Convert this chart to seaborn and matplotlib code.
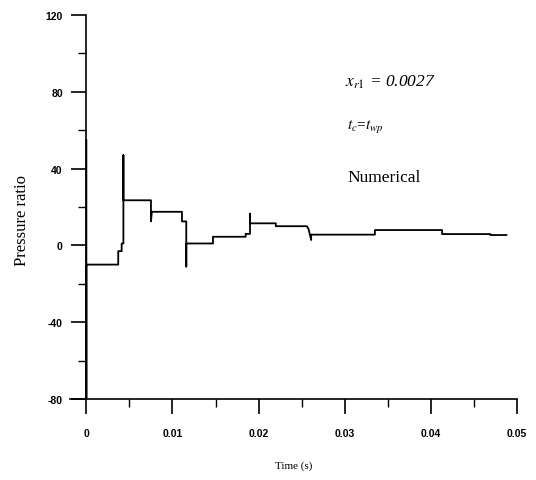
import matplotlib
matplotlib.use("Agg")
import matplotlib.pyplot as plt
import seaborn as sns
import pandas as pd
import numpy as np
from matplotlib.ticker import MultipleLocator

# Step-like pressure history (time in s, pressure ratio)
time_s = [0.0, 0.0, 0.0, 0.0037, 0.0037, 0.0041, 0.0041, 0.0043, 0.0043, 0.0043,
          0.0075, 0.0075, 0.0076, 0.0111, 0.0111, 0.0116, 0.0116, 0.0116,
          0.0147, 0.0147, 0.0185, 0.0185, 0.0190, 0.0190, 0.0190,
          0.0220, 0.0220, 0.0256, 0.0258, 0.0261, 0.0261, 0.0335, 0.0335,
          0.0413, 0.0413, 0.0469, 0.0469, 0.0488]
pressure = [55, -80, -10, -10, -3, -3, 1, 1, 47, 23.5,
            23.5, 12.5, 17.5, 17.5, 12.5, 12.5, -11, 1,
            1, 4.5, 4.5, 6, 6, 16.5, 11.5,
            11.5, 10, 10, 8.5, 2.8, 5.6, 5.6, 8,
            8, 5.9, 5.9, 5.4, 5.4]

x_ticks = [0, 0.01, 0.02, 0.03, 0.04, 0.05]
x_tick_labels = ["0", "0.01", "0.02", "0.03", "0.04", "0.05"]
y_ticks = [-80, -40, 0, 40, 80, 120]
y_tick_labels = ["-80", "-40", "0", "40", "80", "120"]

df = pd.DataFrame({"t": time_s, "p": pressure})

sns.set_theme(style="ticks")
plt.rcParams["font.family"] = ["Liberation Serif", "DejaVu Serif"]
plt.rcParams["mathtext.fontset"] = "stix"

fig = plt.figure(figsize=(5.36, 4.81), dpi=100)
ax = fig.add_axes([70 / 536, 1 - 400 / 481, (517 - 70) / 536, (400 - 16) / 481])

sns.lineplot(data=df, x="t", y="p", estimator=None, sort=False,
             color="black", linewidth=1.3, ax=ax)

ax.set_xlim(-0.0019, 0.05)
ax.set_ylim(-80, 120)
ax.spines["left"].set_position(("data", 0))
ax.spines["top"].set_visible(False)
ax.spines["right"].set_visible(False)
ax.spines["left"].set_color("black")
ax.spines["bottom"].set_color("black")
ax.spines["left"].set_linewidth(1.2)
ax.spines["bottom"].set_linewidth(1.2)

ax.set_xticks(x_ticks)
ax.set_xticklabels(x_tick_labels, fontfamily="Liberation Sans", fontweight="bold", fontsize=7.5)
ax.set_yticks(y_ticks)
ax.set_yticklabels(y_tick_labels, fontfamily="Liberation Sans", fontweight="bold", fontsize=7.5)
ax.xaxis.set_minor_locator(MultipleLocator(0.005))
ax.yaxis.set_minor_locator(MultipleLocator(20))
ax.tick_params(axis="both", which="major", direction="out", length=11, width=1.2,
               color="black", labelcolor="black")
ax.tick_params(axis="both", which="minor", direction="out", length=6, width=1.0, color="black")
ax.tick_params(axis="x", which="major", pad=10)
ax.tick_params(axis="y", which="major", pad=6)

ax.set_xlabel("Time (s)", fontsize=8, labelpad=16, color="black")
ax.set_ylabel("")
fig.text(22 / 536, 1 - 220 / 481, "Pressure ratio", rotation=90, fontsize=12,
         ha="center", va="center", color="black")

ax.text(345 / 536, 1 - 82 / 481, r"$x_{r1}$ = 0.0027", transform=fig.transFigure,
        fontsize=12.5, fontstyle="italic", ha="left", va="center", color="black")
ax.text(347 / 536, 1 - 127 / 481, r"$t_c$=$t_{wp}$", transform=fig.transFigure,
        fontsize=11, ha="left", va="center", color="black")
ax.text(347 / 536, 1 - 178 / 481, "Numerical", transform=fig.transFigure,
        fontsize=12.5, ha="left", va="center", color="black")

fig.savefig("out.png", dpi=100, facecolor="white")
